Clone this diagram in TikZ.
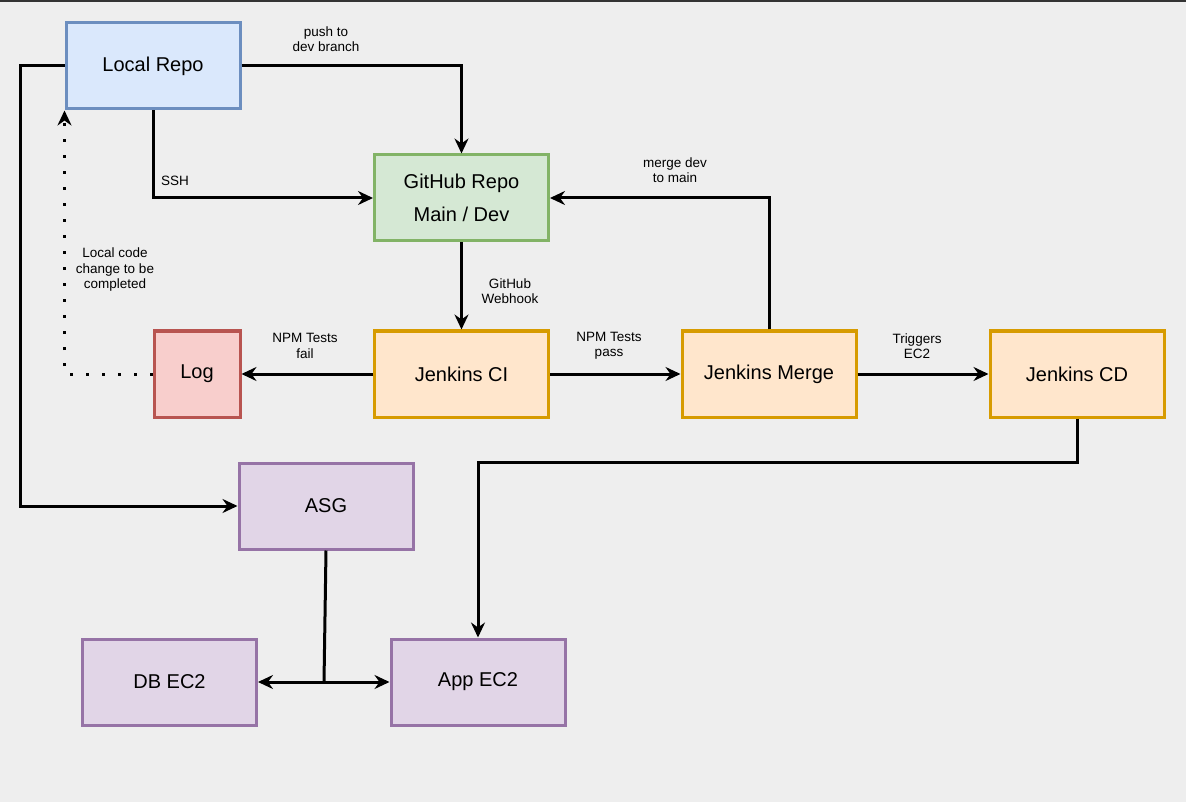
\documentclass[tikz,border=0pt]{standalone}
\usepackage{fontspec}
\setmainfont{Liberation Sans}
\usetikzlibrary{arrows.meta}
\definecolor{bgc}{HTML}{EEEEEE}
\definecolor{bluefill}{HTML}{DAE8FC}\definecolor{blueline}{HTML}{6C8EBF}
\definecolor{greenfill}{HTML}{D5E8D4}\definecolor{greenline}{HTML}{82B366}
\definecolor{redfill}{HTML}{F8CECC}\definecolor{redline}{HTML}{B85450}
\definecolor{orangefill}{HTML}{FFE6CC}\definecolor{orangeline}{HTML}{D79B00}
\definecolor{purplefill}{HTML}{E1D5E7}\definecolor{purpleline}{HTML}{9673A6}
\begin{document}
\begin{tikzpicture}[x=1pt,y=-1pt,
    box/.style={draw,line width=3pt,minimum width=174pt,minimum height=86pt,inner sep=0pt,
      font=\fontsize{20}{33}\selectfont,align=center},
    local/.style={box,fill=bluefill,draw=blueline},
    repo/.style={box,fill=greenfill,draw=greenline},
    fail/.style={box,fill=redfill,draw=redline,minimum width=86pt},
    jenkins/.style={box,fill=orangefill,draw=orangeline},
    aws/.style={box,fill=purplefill,draw=purpleline},
    lbl/.style={font=\fontsize{13.5}{15.5}\selectfont,align=center,inner sep=0pt},
    wire/.style={line width=3pt,-{Stealth[length=15pt,width=14pt,inset=5pt]}}]
  \fill[bgc] (0,0) rectangle (1186,802);
  \useasboundingbox (0,0) rectangle (1186,802);
  \draw[line width=2pt,black!80] (0,1) -- (1186,1);

  % boxes
  \node[local] (localrepo) at (153,66) {Local Repo};
  \node[repo] (github) at (461.5,198) {GitHub Repo\\Main / Dev};
  \node[fail] (log) at (197,374) {Log};
  \node[jenkins] (ci) at (461.5,374) {Jenkins CI};
  \node[jenkins] (merge) at (769,374) {Jenkins Merge};
  \node[jenkins] (cd) at (1077,374) {Jenkins CD};
  \node[aws] (asg) at (326,506) {ASG};
  \node[aws] (db) at (169.5,682) {DB EC2};
  \node[aws] (app) at (478,682) {App EC2};
  \coordinate (split) at (324,682);

  % connectors
  \draw[wire] (localrepo.east) -| (github.north);
  \draw[wire] (localrepo.south) |- (github.west);
  \draw[wire] (localrepo.west) -- ++(-44,0) |- (asg.west);
  \draw[wire,dash pattern=on 3pt off 13pt] (log.west) -| (localrepo.south west);
  \draw[wire] (github.south) -- (ci.north);
  \draw[wire] (ci.west) -- (log.east);
  \draw[wire] (ci.east) -- (merge.west);
  \draw[wire] (merge.north) |- (github.east);
  \draw[wire] (merge.east) -- (cd.west);
  \draw[wire] (cd.south) -- ++(0,44) -| (app.north);
  \draw[line width=3pt] (asg.south) -- (split);
  \draw[wire] (split) -- (db.east);
  \draw[wire] (split) -- (app.west);

  % labels
  \node[lbl] (lpush) at (326,39) {push to\\dev branch};
  \node[lbl] (lssh) at (175,181) {SSH};
  \node[lbl] (llocal) at (115,270) {Local code\\change to be\\completed};
  \node[lbl] (lhook) at (510,291) {GitHub\\Webhook};
  \node[lbl] (lfail) at (305,346) {NPM Tests\\fail};
  \node[lbl] (lpass) at (609,346) {NPM Tests\\pass};
  \node[lbl] (lmerge) at (675,170) {merge dev\\to main};
  \node[lbl] (ltrig) at (917,346) {Triggers\\EC2};
\end{tikzpicture}
\end{document}
